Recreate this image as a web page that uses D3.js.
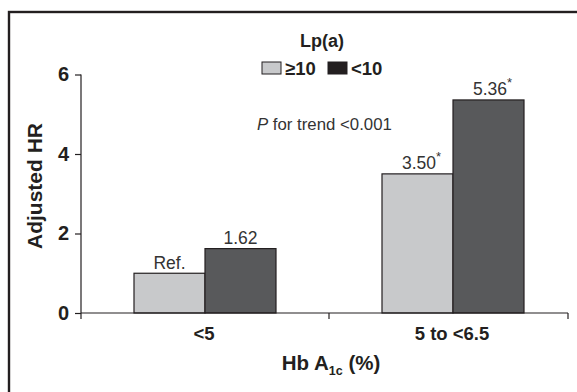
<!DOCTYPE html>
<html><head><meta charset="utf-8">
<script src="https://cdn.jsdelivr.net/npm/d3@7"></script>
<style>
html,body{margin:0;padding:0;background:#fff;}
svg{display:block;font-family:"Liberation Sans",Arial,Helvetica,sans-serif;}
</style></head>
<body>
<svg id="chart" width="577" height="392"></svg>
<script>
const categories = ["<5", "5 to <6.5"];
const seriesNames = ["\u226510", "<10"];
const valuesHigh = [1.00, 3.50];   // Lp(a) ≥10
const valuesLow = [1.62, 5.36];    // Lp(a) <10
const labelsHigh = ["Ref.", "3.50"];
const labelsLow = ["1.62", "5.36"];
const starHigh = [false, true];
const starLow = [false, true];
const yTicks = [0, 2, 4, 6];
const seriesColors = ["#c8c9cb", "#58595b"];
const legendColors = ["#c8c9cb", "#231f20"];

const svg = d3.select("#chart");
const ink = "#231f20";

// outer frame
svg.append("rect").attr("x", 9).attr("y", 12).attr("width", 620).attr("height", 420)
  .attr("fill", "none").attr("stroke", ink).attr("stroke-width", 2.4);

const y = d3.scaleLinear().domain([0, 6]).range([313, 74.5]);
const x0 = d3.scaleBand().domain(categories).range([81, 577]).padding(0);
const x1 = d3.scaleBand().domain(seriesNames).range([53, 195]).padding(0);

const rows = categories.map((c, i) => ({
  cat: c,
  items: [
    {s: seriesNames[0], v: valuesHigh[i], lab: labelsHigh[i], star: starHigh[i], col: seriesColors[0]},
    {s: seriesNames[1], v: valuesLow[i], lab: labelsLow[i], star: starLow[i], col: seriesColors[1]}
  ]
}));

const g = svg.append("g");
const grp = g.selectAll("g.grp").data(rows).enter().append("g")
  .attr("transform", d => `translate(${x0(d.cat)},0)`);
grp.selectAll("rect").data(d => d.items).enter().append("rect")
  .attr("x", d => x1(d.s)).attr("width", x1.bandwidth())
  .attr("y", d => y(d.v)).attr("height", d => y(0) - y(d.v))
  .attr("fill", d => d.col).attr("stroke", ink).attr("stroke-width", 1.2);

const lab = grp.selectAll("text.val").data(d => d.items).enter().append("text")
  .attr("class", "val")
  .attr("x", d => x1(d.s) + x1.bandwidth() / 2 + (d.star ? 4 : 0))
  .attr("y", d => y(d.v) - 4.5)
  .attr("text-anchor", "middle")
  .attr("font-size", 17.5).attr("fill", "#333");
lab.append("tspan").text(d => d.lab);
lab.filter(d => d.star).append("tspan").attr("dy", -8).attr("font-size", 13).text("*");

// y axis
const yAxis = d3.axisLeft(y).tickValues(yTicks).tickSize(6).tickPadding(6).tickFormat(d3.format("d"));
const ya = svg.append("g").attr("transform", "translate(81,0)").call(yAxis);
ya.select(".domain").attr("d", `M0,${y(6)}V${y(0)}`).attr("stroke", ink).attr("stroke-width", 1.2);
ya.selectAll(".tick line").attr("stroke", ink).attr("stroke-width", 1.2);
ya.selectAll(".tick text").attr("font-size", 20).attr("font-weight", "bold").attr("fill", ink)
  .attr("font-family", "'Liberation Sans',Arial,sans-serif");

// x axis
const xEnd = 568;
const xa = svg.append("g");
xa.append("line").attr("x1", x0.range()[0]).attr("x2", xEnd).attr("y1", y(0)).attr("y2", y(0))
  .attr("stroke", ink).attr("stroke-width", 1.2);
const tickXs = categories.map(c => x0(c)).concat([xEnd]);
xa.selectAll("line.t").data(tickXs).enter().append("line").attr("class", "t")
  .attr("x1", d => d).attr("x2", d => d).attr("y1", y(0)).attr("y2", y(0) + 6)
  .attr("stroke", ink).attr("stroke-width", 1.2);
xa.selectAll("text").data(categories).enter().append("text")
  .attr("x", d => x0(d) + x0.bandwidth() / 2 - 1).attr("y", 340)
  .attr("text-anchor", "middle").attr("font-size", 18.5).attr("font-weight", "bold").attr("fill", ink)
  .text(d => d);

// axis titles
const xt = svg.append("text").attr("x", 331).attr("y", 370).attr("text-anchor", "middle")
  .attr("font-size", 20.5).attr("font-weight", "bold").attr("fill", ink);
xt.append("tspan").text("Hb A");
xt.append("tspan").attr("font-size", 12.5).attr("dy", 5).text("1c");
xt.append("tspan").attr("dy", -5).text(" (%)");

svg.append("text").attr("transform", "translate(42,186) rotate(-90)")
  .attr("text-anchor", "middle").attr("font-size", 21).attr("font-weight", "bold").attr("fill", ink)
  .text("Adjusted HR");

// legend
svg.append("text").attr("x", 322).attr("y", 47).attr("text-anchor", "middle")
  .attr("font-size", 18).attr("font-weight", "bold").attr("fill", ink).text("Lp(a)");
const legX = [262, 328];
const leg = svg.selectAll("g.leg").data(seriesNames).enter().append("g")
  .attr("transform", (d, i) => `translate(${legX[i]},62)`);
leg.append("rect").attr("width", 19).attr("height", 12)
  .attr("fill", (d, i) => legendColors[i]).attr("stroke", ink).attr("stroke-width", 1);
leg.append("text").attr("x", 23).attr("y", 12.5).attr("font-size", 18.5).attr("font-weight", "bold")
  .attr("fill", ink).text(d => d);

// trend note
const pt = svg.append("text").attr("x", 257).attr("y", 130).attr("font-size", 16.8).attr("fill", "#333");
pt.append("tspan").attr("font-style", "italic").text("P");
pt.append("tspan").text(" for trend <0.001");
</script>
</body></html>
